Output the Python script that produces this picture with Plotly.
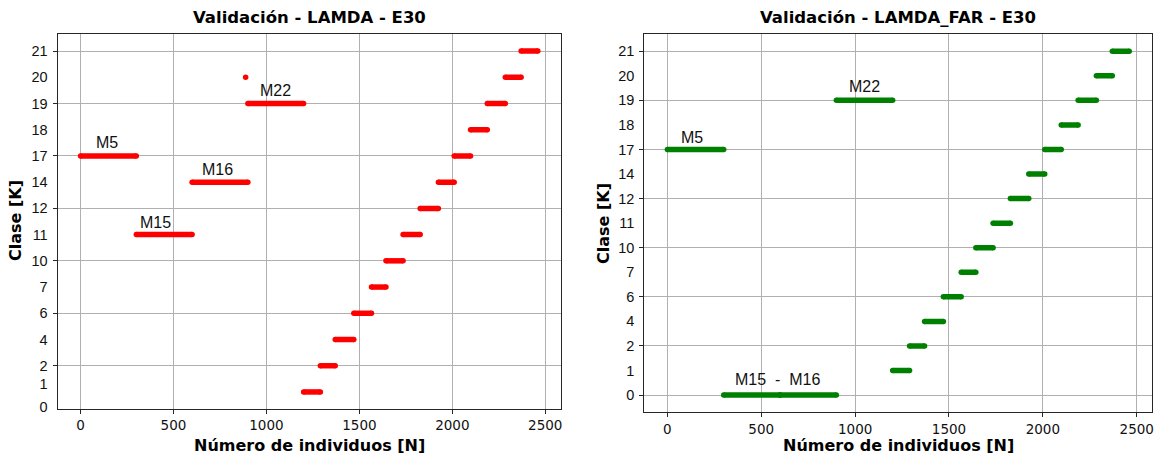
import plotly.graph_objects as go

# Class levels shown on the y axis (ordinal scale, bottom to top)
class_levels = [0, 1, 2, 4, 6, 7, 10, 11, 12, 14, 17, 18, 19, 20, 21]

# Training models: individual ranges and the class each method assigns
model_names = ["M5", "M15", "M16", "M22"]
model_start = [0, 300, 600, 900]
model_end = [300, 600, 900, 1200]
model_class_lamda = [17, 11, 14, 19]
model_class_far = [17, 0, 0, 19]

# Validation individuals: consecutive ranges, one class each
stair_start = [1200, 1290, 1370, 1470, 1565, 1643, 1735, 1827, 1925, 2010, 2098, 2188, 2285, 2370]
stair_end = [1290, 1370, 1470, 1565, 1643, 1735, 1827, 1925, 2010, 2098, 2188, 2285, 2370, 2460]
stair_class = [1, 2, 4, 6, 7, 10, 11, 12, 14, 17, 18, 19, 20, 21]

# Isolated individual classified differently by LAMDA
lamda_extra_n = [888]
lamda_extra_class = [20]

W, H = 1159, 458
RED = "#ff0000"
GREEN = "#008000"
GRID = "#b0b0b0"
FRAME = "#262626"


def level(c):
    return class_levels.index(c)


def segments(starts, ends, classes):
    xs, ys = [], []
    for s, e, c in zip(starts, ends, classes):
        xs += [s, e, None]
        ys += [level(c), level(c), None]
    return xs, ys


def seg_trace(starts, ends, classes, color, xa, ya):
    xs, ys = segments(starts, ends, classes)
    return go.Scatter(x=xs, y=ys, mode="lines+markers",
                      line=dict(color=color, width=5.5),
                      marker=dict(color=color, size=5.5),
                      xaxis=xa, yaxis=ya, showlegend=False, hoverinfo="skip")


fig = go.Figure()

# --- LAMDA (left) ---
fig.add_trace(seg_trace(model_start, model_end, model_class_lamda, RED, "x", "y"))
fig.add_trace(seg_trace(stair_start, stair_end, stair_class, RED, "x", "y3"))
fig.add_trace(go.Scatter(x=lamda_extra_n, y=[level(c) for c in lamda_extra_class],
                         mode="markers", marker=dict(color=RED, size=5.5),
                         xaxis="x", yaxis="y", showlegend=False, hoverinfo="skip"))

# --- LAMDA_FAR (right) ---
fig.add_trace(seg_trace(model_start, model_end, model_class_far, GREEN, "x2", "y2"))
fig.add_trace(seg_trace(stair_start, stair_end, stair_class, GREEN, "x2", "y4"))


def px_x(p):
    return p / W


def px_y(p):
    return 1 - p / H


x_ticks = [0, 500, 1000, 1500, 2000, 2500]
x_range = [-123, 2583]

left_dom_x = [px_x(57.7), px_x(560.7)]
right_dom_x = [px_x(644.3), px_x(1152.3)]
left_dom_y = [px_y(409), px_y(34)]
right_dom_y = [px_y(412.3), px_y(34)]

left_range = [0.35, 14.65]
right_range = [-0.7, 14.7]

# label positions on the class axis
left_label_pos = [0.43, 1.31] + list(range(2, len(class_levels)))
right_label_pos = list(range(len(class_levels)))
labels = [str(c) for c in class_levels]

tickfont_x = dict(family="DejaVu Sans", size=13.5, color="#111")
tickfont_y = dict(family="Liberation Sans", size=14.5, color="#111")


def xaxis(dom, anchor):
    return dict(domain=dom, anchor=anchor, range=x_range, tickmode="array",
                tickvals=x_ticks, showgrid=True, gridcolor=GRID, gridwidth=1,
                ticks="outside", ticklen=4, tickcolor=FRAME, showline=True,
                linecolor=FRAME, linewidth=1.3, mirror=True, zeroline=False,
                tickfont=tickfont_x, automargin=False)


def grid_yaxis(dom, anchor, rng, vals):
    return dict(domain=dom, anchor=anchor, range=rng, tickmode="array",
                tickvals=vals, ticktext=[""] * len(vals), showgrid=True,
                gridcolor=GRID, gridwidth=1, ticks="outside", ticklen=4,
                tickcolor=FRAME, showline=True, linecolor=FRAME, linewidth=1.3,
                mirror=True, zeroline=False, automargin=False)


def label_yaxis(overlay, anchor, rng, pos):
    return dict(overlaying=overlay, anchor=anchor, range=rng, tickmode="array",
                tickvals=pos, ticktext=labels, showgrid=False, ticks="",
                showline=False, zeroline=False, side="left",
                ticklabelstandoff=9, tickfont=tickfont_y, automargin=False)


fig.update_layout(
    width=W, height=H,
    margin=dict(l=0, r=0, t=0, b=0, pad=0, autoexpand=False),
    paper_bgcolor="white", plot_bgcolor="white",
    xaxis=xaxis(left_dom_x, "y"),
    yaxis=grid_yaxis(left_dom_y, "x", left_range, list(range(2, 15, 2))),
    yaxis3=label_yaxis("y", "x", left_range, left_label_pos),
    xaxis2=xaxis(right_dom_x, "y2"),
    yaxis2=grid_yaxis(right_dom_y, "x2", right_range, list(range(0, 15, 2))),
    yaxis4=label_yaxis("y2", "x2", right_range, right_label_pos),
)

ann_font = dict(family="Liberation Sans", size=16, color="#111")
annotations = []

# Model labels, left chart
left_model_text = [(142, 10.5), (402, 7.48), (739, 9.5), (1046, 12.48)]
for name, (xn, yp) in zip(model_names, left_model_text):
    annotations.append(dict(x=xn, y=yp, xref="x", yref="y", text=name,
                            showarrow=False, font=ann_font))

# Model labels, right chart
right_model_text = [("M5", 129, 10.5), ("M22", 1050, 12.55),
                    ("M15\u00a0\u00a0-\u00a0\u00a0M16", 587, 0.65)]
for name, xn, yp in right_model_text:
    annotations.append(dict(x=xn, y=yp, xref="x2", yref="y2", text=name,
                            showarrow=False, font=ann_font))

title_font = dict(family="DejaVu Sans", size=16.5, color="#000")
axis_font = dict(family="DejaVu Sans", size=16, color="#000")
for dom_x, ttl in [(left_dom_x, "Validación - LAMDA - E30"),
                   (right_dom_x, "Validación - LAMDA_FAR - E30")]:
    cx = (dom_x[0] + dom_x[1]) / 2
    annotations.append(dict(x=cx, y=px_y(18), xref="paper", yref="paper",
                            text=f"<b>{ttl}</b>", showarrow=False, font=title_font,
                            xanchor="center", yanchor="middle"))
    annotations.append(dict(x=cx, y=px_y(445), xref="paper", yref="paper",
                            text="<b>Número de individuos [N]</b>", showarrow=False,
                            font=axis_font, xanchor="center", yanchor="middle"))

for xp, yp in [(16, 221), (603, 223)]:
    annotations.append(dict(x=px_x(xp), y=px_y(yp), xref="paper", yref="paper",
                            text="<b>Clase [K]</b>", showarrow=False, font=axis_font,
                            textangle=-90, xanchor="center", yanchor="middle"))

fig.update_layout(annotations=annotations)

fig.write_html("out.html")
